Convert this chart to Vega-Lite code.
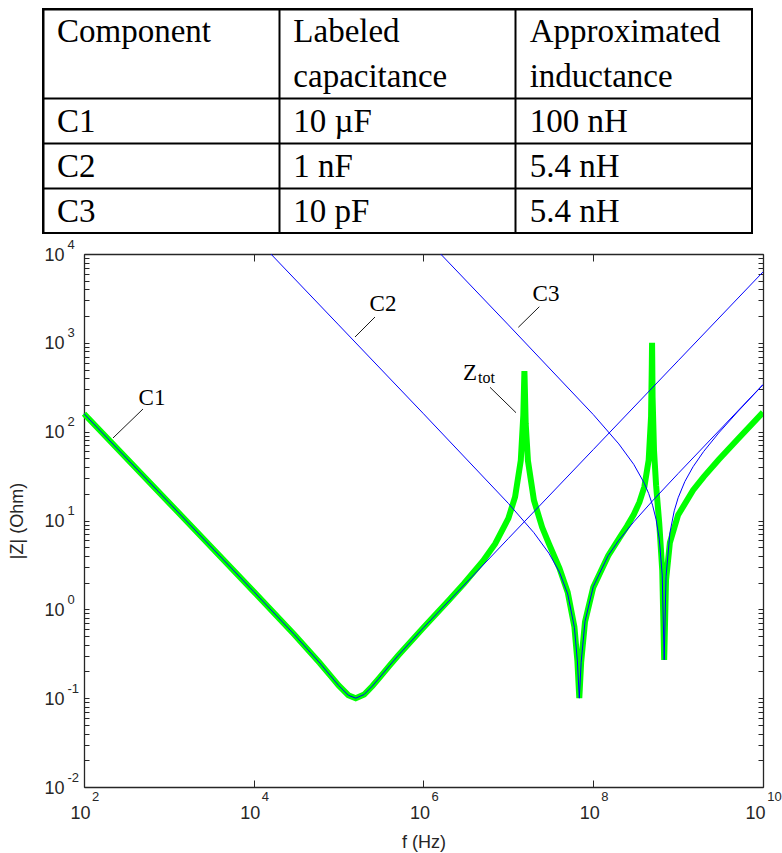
{
  "$schema": "https://vega.github.io/schema/vega-lite/v6.json",
  "background": "white",
  "padding": {"left": 8, "top": 8, "right": 0, "bottom": 2},
  "bounds": "flush",
  "spacing": 21,
  "config": {
    "view": {"stroke": null},
    "axis": {"grid": false, "labelFont": "Liberation Sans", "labelFontSize": 18, "labelColor": "#262626", "titleFont": "Liberation Sans", "titleFontSize": 18, "titleFontWeight": "normal", "titleColor": "#262626", "domainColor": "#262626", "tickColor": "#262626", "labelOverlap": false, "labelFlush": false}
  },
  "datasets": {
    "table": [
      {"col": "c1", "row": "h1", "text": "Component"},
      {"col": "c2", "row": "h1", "text": "Labeled"},
      {"col": "c2", "row": "h2", "text": "capacitance"},
      {"col": "c3", "row": "h1", "text": "Approximated"},
      {"col": "c3", "row": "h2", "text": "inductance"},
      {"col": "c1", "row": "r1", "text": "C1"},
      {"col": "c2", "row": "r1", "text": "10 µF"},
      {"col": "c3", "row": "r1", "text": "100 nH"},
      {"col": "c1", "row": "r2", "text": "C2"},
      {"col": "c2", "row": "r2", "text": "1 nF"},
      {"col": "c3", "row": "r2", "text": "5.4 nH"},
      {"col": "c1", "row": "r3", "text": "C3"},
      {"col": "c2", "row": "r3", "text": "10 pF"},
      {"col": "c3", "row": "r3", "text": "5.4 nH"}
    ],
    "ztot": [
      {"f": 100, "z": 159.2}, {"f": 1000, "z": 15.92}, {"f": 10000, "z": 1.585}, {"f": 30000, "z": 0.521},
      {"f": 60000, "z": 0.249}, {"f": 80000, "z": 0.179}, {"f": 100000, "z": 0.139}, {"f": 130000, "z": 0.108},
      {"f": 159000, "z": 0.1}, {"f": 200000, "z": 0.11}, {"f": 250000, "z": 0.137}, {"f": 300000, "z": 0.168},
      {"f": 400000, "z": 0.234}, {"f": 500000, "z": 0.3}, {"f": 1000000, "z": 0.623}, {"f": 2000000, "z": 1.273},
      {"f": 3000000, "z": 1.952}, {"f": 5000000, "z": 3.485}, {"f": 7000000, "z": 5.476}, {"f": 10000000, "z": 10.59},
      {"f": 12000000, "z": 18.46}, {"f": 14000000, "z": 47.3}, {"f": 15000000, "z": 153}, {"f": 15450000, "z": 480},
      {"f": 15500000, "z": 434}, {"f": 16000000, "z": 122.7}, {"f": 17000000, "z": 47.0}, {"f": 20000000, "z": 16.92},
      {"f": 25000000, "z": 8.39}, {"f": 30000000, "z": 5.49}, {"f": 40000000, "z": 2.903}, {"f": 50000000, "z": 1.557},
      {"f": 60000000, "z": 0.634}, {"f": 65000000, "z": 0.264}, {"f": 68500000, "z": 0.1}, {"f": 72000000, "z": 0.252},
      {"f": 80000000, "z": 0.724}, {"f": 100000000, "z": 1.767}, {"f": 150000000, "z": 4.017}, {"f": 200000000, "z": 6.205},
      {"f": 250000000, "z": 8.643}, {"f": 300000000, "z": 11.68}, {"f": 350000000, "z": 16.04}, {"f": 400000000, "z": 23.94},
      {"f": 450000000, "z": 47.96}, {"f": 480000000, "z": 148}, {"f": 490000000, "z": 583}, {"f": 493000000, "z": 1000},
      {"f": 495000000, "z": 698}, {"f": 500000000, "z": 244.6}, {"f": 520000000, "z": 60.9}, {"f": 550000000, "z": 25.0},
      {"f": 600000000, "z": 9.12}, {"f": 650000000, "z": 2.757}, {"f": 685000000, "z": 0.27}, {"f": 720000000, "z": 2.114},
      {"f": 800000000, "z": 5.649}, {"f": 1000000000, "z": 11.53}, {"f": 1500000000, "z": 21.94}, {"f": 2000000000, "z": 31.02},
      {"f": 3000000000, "z": 48.26}, {"f": 5000000000, "z": 81.8}, {"f": 10000000000, "z": 164.8}
    ],
    "comps": [
      {"comp": "C1", "f": 100, "z": 159.2}, {"comp": "C1", "f": 1000, "z": 15.92}, {"comp": "C1", "f": 10000, "z": 1.585},
      {"comp": "C1", "f": 30000, "z": 0.521}, {"comp": "C1", "f": 60000, "z": 0.249}, {"comp": "C1", "f": 80000, "z": 0.179},
      {"comp": "C1", "f": 100000, "z": 0.139}, {"comp": "C1", "f": 130000, "z": 0.108}, {"comp": "C1", "f": 159000, "z": 0.1},
      {"comp": "C1", "f": 200000, "z": 0.11}, {"comp": "C1", "f": 250000, "z": 0.137}, {"comp": "C1", "f": 300000, "z": 0.168},
      {"comp": "C1", "f": 400000, "z": 0.234}, {"comp": "C1", "f": 500000, "z": 0.3}, {"comp": "C1", "f": 1000000, "z": 0.621},
      {"comp": "C1", "f": 10000000, "z": 6.28}, {"comp": "C1", "f": 100000000, "z": 62.83}, {"comp": "C1", "f": 1000000000, "z": 628.3},
      {"comp": "C1", "f": 10000000000, "z": 6283},
      {"comp": "C2", "f": 10000, "z": 15915}, {"comp": "C2", "f": 100000, "z": 1591.5}, {"comp": "C2", "f": 1000000, "z": 159.1},
      {"comp": "C2", "f": 10000000, "z": 15.58}, {"comp": "C2", "f": 20000000, "z": 7.28}, {"comp": "C2", "f": 30000000, "z": 4.288},
      {"comp": "C2", "f": 40000000, "z": 2.624}, {"comp": "C2", "f": 50000000, "z": 1.49}, {"comp": "C2", "f": 60000000, "z": 0.625},
      {"comp": "C2", "f": 65000000, "z": 0.263}, {"comp": "C2", "f": 68500000, "z": 0.1}, {"comp": "C2", "f": 72000000, "z": 0.253},
      {"comp": "C2", "f": 80000000, "z": 0.732}, {"comp": "C2", "f": 100000000, "z": 1.803}, {"comp": "C2", "f": 150000000, "z": 4.029},
      {"comp": "C2", "f": 200000000, "z": 5.99}, {"comp": "C2", "f": 300000000, "z": 9.65}, {"comp": "C2", "f": 500000000, "z": 16.65},
      {"comp": "C2", "f": 1000000000, "z": 33.77}, {"comp": "C2", "f": 10000000000, "z": 339.3},
      {"comp": "C3", "f": 1000000, "z": 15915}, {"comp": "C3", "f": 10000000, "z": 1591.5}, {"comp": "C3", "f": 100000000, "z": 155.8},
      {"comp": "C3", "f": 200000000, "z": 72.79}, {"comp": "C3", "f": 300000000, "z": 42.87}, {"comp": "C3", "f": 400000000, "z": 26.22},
      {"comp": "C3", "f": 450000000, "z": 20.1}, {"comp": "C3", "f": 500000000, "z": 14.87}, {"comp": "C3", "f": 550000000, "z": 10.28},
      {"comp": "C3", "f": 600000000, "z": 6.17}, {"comp": "C3", "f": 650000000, "z": 2.43}, {"comp": "C3", "f": 685000000, "z": 0.27},
      {"comp": "C3", "f": 720000000, "z": 2.33}, {"comp": "C3", "f": 800000000, "z": 7.25}, {"comp": "C3", "f": 900000000, "z": 12.85},
      {"comp": "C3", "f": 1000000000, "z": 18.01}, {"comp": "C3", "f": 1200000000, "z": 27.45}, {"comp": "C3", "f": 1500000000, "z": 40.28},
      {"comp": "C3", "f": 2000000000, "z": 59.9}, {"comp": "C3", "f": 3000000000, "z": 96.5}, {"comp": "C3", "f": 5000000000, "z": 166.5},
      {"comp": "C3", "f": 10000000000, "z": 337.7}
    ],
    "leaders": [
      {"name": "C1", "f1": 495.6, "z1": 179.9, "f2": 219.7, "z2": 84.9},
      {"name": "C2", "f1": 268300, "z1": 1953, "f2": 156000, "z2": 1163},
      {"name": "C3", "f1": 23150000, "z1": 2551, "f2": 13090000, "z2": 1495},
      {"name": "Ztot", "f1": 6076000, "z1": 315.8, "f2": 12300000, "z2": 163.5}
    ],
    "labels": [
      {"part": "main", "text": "C1", "f": 632, "z": 239},
      {"part": "main", "text": "C2", "f": 333600, "z": 2735},
      {"part": "main", "text": "C3", "f": 27740000, "z": 3545},
      {"part": "main", "text": "Z", "f": 3532000, "z": 457},
      {"part": "sub", "text": "tot", "f": 4385000, "z": 401.9}
    ]
  },
  "vconcat": [
    {
      "width": 709,
      "height": 224,
      "view": {"stroke": "black", "strokeWidth": 2},
      "data": {"name": "table"},
      "mark": {"type": "text", "font": "Liberation Serif", "fontSize": 33, "align": "left", "baseline": "alphabetic", "dx": 14, "dy": 11, "color": "black"},
      "encoding": {
        "x": {"field": "col", "type": "nominal", "bandPosition": 0,
              "scale": {"type": "band", "domain": ["c1", "c2", "c3"], "paddingInner": 0, "paddingOuter": 0},
              "axis": {"title": null, "labels": false, "ticks": false, "domain": false, "grid": true, "gridColor": "black", "gridWidth": 2, "gridOpacity": 1, "bandPosition": 0}},
        "y": {"field": "row", "type": "nominal", "bandPosition": 0.5,
              "scale": {"type": "band", "domain": ["h1", "h2", "r1", "r2", "r3"], "paddingInner": 0, "paddingOuter": 0},
              "axis": {"title": null, "labels": false, "ticks": false, "domain": false, "grid": true, "gridColor": "black", "gridWidth": 2, "gridOpacity": 1, "bandPosition": 0, "values": ["h1", "r1", "r2", "r3"]}},
        "text": {"field": "text"}
      }
    },
    {
      "width": 720,
      "height": 533,
      "resolve": {"axis": {"x": "independent", "y": "independent"}},
      "layer": [
        {
          "data": {"name": "ztot"},
          "mark": {"type": "line", "color": "#00ff00", "strokeWidth": 6, "clip": true},
          "encoding": {
            "x": {"field": "f", "type": "quantitative",
                  "scale": {"type": "log", "domain": [100, 10000000000], "range": [41, 720], "nice": false},
                  "axis": {"orient": "bottom", "values": [100, 10000, 1000000, 100000000, 10000000000], "title": "f (Hz)", "tickSize": -7, "labelPadding": 24, "titlePadding": 11, "domainWidth": 1.3,
                           "labelOffset": {"condition": {"test": "datum.value > 1000000000", "value": -8}, "value": -4},
                           "labelExpr": "'10'"}},
            "y": {"field": "z", "type": "quantitative",
                  "scale": {"type": "log", "domain": [0.01, 10000], "nice": false},
                  "axis": {"orient": "left", "offset": -41, "values": [0.01,0.02,0.03,0.04,0.05,0.06,0.07,0.08,0.09,0.1,0.2,0.3,0.4,0.5,0.6,0.7,0.8,0.9,1,2,3,4,5,6,7,8,9,10,20,30,40,50,60,70,80,90,100,200,300,400,500,600,700,800,900,1000,2000,3000,4000,5000,6000,7000,8000,9000,10000],
                           "title": "|Z| (Ohm)", "tickSize": -5, "labelPadding": 25, "labelOffset": 1, "titlePadding": 17, "domainWidth": 1.3,
                           "labelExpr": "abs(log(datum.value)/LN10 - round(log(datum.value)/LN10)) < 0.001 ? '10' : ''"}}
          }
        },
        {
          "data": {"name": "comps"},
          "mark": {"type": "line", "color": "#0000ff", "strokeWidth": 1, "clip": true},
          "encoding": {
            "x": {"field": "f", "type": "quantitative",
                  "scale": {"type": "log", "domain": [100, 10000000000], "range": [41, 720], "nice": false},
                  "axis": {"orient": "top", "values": [100, 10000, 1000000, 100000000, 10000000000], "labels": false, "title": null, "tickSize": -7, "domainWidth": 1.3}},
            "y": {"field": "z", "type": "quantitative",
                  "scale": {"type": "log", "domain": [0.01, 10000], "nice": false},
                  "axis": {"orient": "right", "values": [0.01,0.02,0.03,0.04,0.05,0.06,0.07,0.08,0.09,0.1,0.2,0.3,0.4,0.5,0.6,0.7,0.8,0.9,1,2,3,4,5,6,7,8,9,10,20,30,40,50,60,70,80,90,100,200,300,400,500,600,700,800,900,1000,2000,3000,4000,5000,6000,7000,8000,9000,10000],
                           "labels": false, "title": null, "tickSize": -5, "domainWidth": 1.3}},
            "detail": {"field": "comp"}
          }
        },
        {
          "data": {"name": "leaders"},
          "mark": {"type": "rule", "color": "#1a1a1a", "strokeWidth": 1},
          "encoding": {
            "x": {"field": "f1", "type": "quantitative",
                  "axis": {"orient": "bottom", "values": [100, 10000, 1000000, 100000000, 10000000000], "title": null, "ticks": false, "tickSize": 0, "domain": false,
                           "labelFontSize": 13, "labelPadding": 3, "labelOffset": 11, "labelAlign": "center",
                           "labelExpr": "toString(round(log(datum.value)/LN10))"}},
            "y": {"field": "z1", "type": "quantitative",
                  "axis": {"orient": "left", "offset": -41, "values": [0.01, 0.1, 1, 10, 100, 1000, 10000], "title": null, "ticks": false, "tickSize": 0, "domain": false,
                           "labelFontSize": 13, "labelPadding": 17, "labelOffset": -10, "labelAlign": "left", "labelBaseline": "middle",
                           "labelExpr": "toString(round(log(datum.value)/LN10))"}},
            "x2": {"field": "f2"},
            "y2": {"field": "z2"}
          }
        },
        {
          "data": {"name": "labels"},
          "transform": [{"filter": "datum.part == 'main'"}],
          "mark": {"type": "text", "font": "Liberation Serif", "fontSize": 23, "color": "black", "align": "center", "baseline": "middle"},
          "encoding": {
            "x": {"field": "f", "type": "quantitative", "axis": null},
            "y": {"field": "z", "type": "quantitative", "axis": null},
            "text": {"field": "text"}
          }
        },
        {
          "data": {"name": "labels"},
          "transform": [{"filter": "datum.part == 'sub'"}],
          "mark": {"type": "text", "font": "Liberation Serif", "fontSize": 16, "color": "black", "align": "left", "baseline": "middle"},
          "encoding": {
            "x": {"field": "f", "type": "quantitative", "axis": null},
            "y": {"field": "z", "type": "quantitative", "axis": null},
            "text": {"field": "text"}
          }
        }
      ]
    }
  ]
}
